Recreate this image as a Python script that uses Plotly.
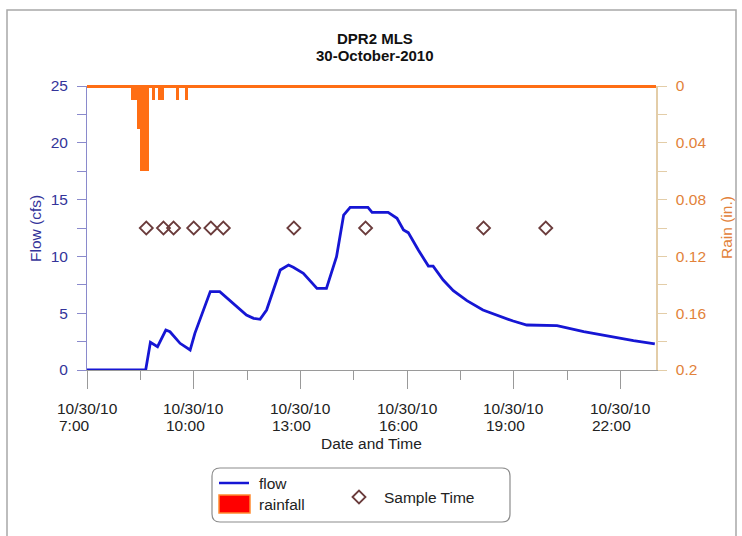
import plotly.graph_objects as go

# ---------------- data ----------------
flow_time = ["2010-10-30 07:00", "2010-10-30 08:39", "2010-10-30 08:47", "2010-10-30 08:59",
             "2010-10-30 09:13", "2010-10-30 09:20", "2010-10-30 09:37", "2010-10-30 09:54",
             "2010-10-30 10:02", "2010-10-30 10:28", "2010-10-30 10:44", "2010-10-30 11:07",
             "2010-10-30 11:29", "2010-10-30 11:41", "2010-10-30 11:52", "2010-10-30 12:03",
             "2010-10-30 12:26", "2010-10-30 12:40", "2010-10-30 12:48", "2010-10-30 13:05",
             "2010-10-30 13:28", "2010-10-30 13:44", "2010-10-30 14:01", "2010-10-30 14:13",
             "2010-10-30 14:24", "2010-10-30 14:54", "2010-10-30 15:01", "2010-10-30 15:28",
             "2010-10-30 15:43", "2010-10-30 15:54", "2010-10-30 16:02", "2010-10-30 16:19",
             "2010-10-30 16:36", "2010-10-30 16:44", "2010-10-30 17:01", "2010-10-30 17:18",
             "2010-10-30 17:41", "2010-10-30 18:08", "2010-10-30 18:37", "2010-10-30 18:59",
             "2010-10-30 19:22", "2010-10-30 20:13", "2010-10-30 20:58", "2010-10-30 21:48",
             "2010-10-30 22:22", "2010-10-30 22:58"]
flow_cfs = [0, 0, 2.44, 2.05,
            3.52, 3.37, 2.35, 1.76,
            3.23, 6.9, 6.9, 5.87,
            4.84, 4.55, 4.46, 5.28,
            8.8, 9.24, 9.04, 8.51,
            7.19, 7.19, 9.97, 13.64,
            14.32, 14.32, 13.88, 13.88,
            13.35, 12.32, 12.09, 10.56,
            9.15, 9.15, 7.92, 6.98,
            6.10, 5.28, 4.69, 4.31,
            3.96, 3.9, 3.37, 2.88,
            2.58, 2.29]

rain_time = ["2010-10-30 08:15", "2010-10-30 08:20", "2010-10-30 08:25", "2010-10-30 08:30",
             "2010-10-30 08:35", "2010-10-30 08:40", "2010-10-30 08:50", "2010-10-30 09:00",
             "2010-10-30 09:05", "2010-10-30 09:30", "2010-10-30 09:45"]
rain_in = [0.01, 0.01, 0.03, 0.06, 0.06, 0.06, 0.01, 0.01, 0.01, 0.01, 0.01]

sample_time = ["2010-10-30 08:40", "2010-10-30 09:09", "2010-10-30 09:26", "2010-10-30 10:00",
               "2010-10-30 10:29", "2010-10-30 10:50", "2010-10-30 12:49", "2010-10-30 14:50",
               "2010-10-30 18:09", "2010-10-30 19:54"]
sample_flow = [12.5] * 10

x_ticks = ["2010-10-30 07:00", "2010-10-30 10:00", "2010-10-30 13:00",
           "2010-10-30 16:00", "2010-10-30 19:00", "2010-10-30 22:00"]
x_tick_dates = ["10/30/10"] * 6
x_tick_times = ["7:00", "10:00", "13:00", "16:00", "19:00", "22:00"]
x_minor = ["2010-10-30 08:30", "2010-10-30 11:30", "2010-10-30 14:30",
           "2010-10-30 17:30", "2010-10-30 20:30"]
flow_ticks = [0, 5, 10, 15, 20, 25]
rain_ticks = [0, 0.04, 0.08, 0.12, 0.16, 0.2]
rain_tick_labels = ["0", "0.04", "0.08", "0.12", "0.16", "0.2"]

# ---------------- styling ----------------
W, H = 742, 536
L, R, T, B = 87, 656, 86, 370
FONT = "Liberation Sans, Arial, sans-serif"
FS = 15.5
BLUE = "#1616d4"
FLOW_AX = "#8a8acc"
FLOW_TXT = "#34349a"
ORANGE = "#ff6e14"
RAIN_AX = "#e3cda8"
RAIN_TXT = "#e2823a"
DIAMOND = "#6b3c3c"
TXT = "#222222"


def px(x):
    return (x - L) / (R - L)


def py(y):
    return (B - y) / (B - T)


fig = go.Figure()

fig.add_trace(go.Bar(
    x=rain_time, y=rain_in, yaxis="y2", width=300000, offset=0,
    marker=dict(color=ORANGE, line=dict(width=0)), showlegend=False))

fig.add_trace(go.Scatter(
    x=flow_time, y=flow_cfs, mode="lines",
    line=dict(color=BLUE, width=2.8), showlegend=False))

fig.add_trace(go.Scatter(
    x=sample_time, y=sample_flow, mode="markers",
    marker=dict(symbol="diamond-open", size=10, color=DIAMOND, line=dict(width=1.8, color=DIAMOND)),
    showlegend=False))

fig.update_layout(
    width=W, height=H,
    margin=dict(l=L, r=W - R, t=T, b=H - B, pad=0),
    paper_bgcolor="white", plot_bgcolor="white",
    font=dict(family=FONT, size=FS, color=TXT),
    bargap=0,
    xaxis=dict(
        type="date", range=["2010-10-30 07:00", "2010-10-30 23:00"],
        tickmode="array", tickvals=x_ticks, showticklabels=False,
        ticks="outside", ticklen=18, tickwidth=1, tickcolor="#9a9a9a",
        minor=dict(tickmode="array", tickvals=x_minor, ticks="outside", ticklen=9, tickcolor="#9a9a9a"),
        showline=True, linecolor="#9a9a9a", linewidth=1, showgrid=False, zeroline=False),
    yaxis=dict(
        range=[0, 25], tickmode="array", tickvals=flow_ticks,
        ticks="outside", ticklen=9, tickcolor=FLOW_AX, ticklabelstandoff=6,
        minor=dict(dtick=2.5, ticks="outside", ticklen=9, tickcolor=FLOW_AX),
        tickfont=dict(color=FLOW_TXT, size=FS),
        showline=True, linecolor=FLOW_AX, linewidth=1, showgrid=False, zeroline=False),
    yaxis2=dict(
        overlaying="y", side="right", range=[0.2, 0],
        tickmode="array", tickvals=rain_ticks, ticktext=rain_tick_labels,
        ticks="outside", ticklen=9, tickcolor=RAIN_AX, ticklabelstandoff=6,
        minor=dict(dtick=0.02, ticks="outside", ticklen=9, tickcolor=RAIN_AX),
        tickfont=dict(color=RAIN_TXT, size=FS),
        showline=True, linecolor=RAIN_AX, linewidth=1.5, showgrid=False,
        zeroline=True, zerolinecolor=ORANGE, zerolinewidth=2.5),
)


def note(x, y, text, size=FS, color=TXT, xanchor="center", angle=0, xref="paper", xshift=0):
    return dict(x=x, y=y, xref=xref, yref="paper", text=text, showarrow=False,
                xanchor=xanchor, yanchor="middle", textangle=angle, xshift=xshift,
                font=dict(size=size, color=color))


annotations = []
for tv, d, t in zip(x_ticks, x_tick_dates, x_tick_times):
    annotations.append(note(tv, py(408), d, xref="x"))
    annotations.append(note(tv, py(425), t, xref="x", xanchor="left", xshift=-30))
annotations += [
    note(px(371), py(444), "Date and Time"),
    note(px(35), py(228), "Flow (cfs)", color=FLOW_TXT, angle=-90),
    note(px(726), py(228), "Rain (in.)", color=RAIN_TXT, angle=-90),
    note(px(375), py(38), "<b>DPR2 MLS</b>", size=15, color="#111111"),
    note(px(375), py(56), "<b>30-October-2010</b>", size=15, color="#111111"),
    note(px(257), py(483), "flow", xanchor="left"),
    note(px(257), py(504), "rainfall", xanchor="left"),
    note(px(382), py(497), "Sample Time", xanchor="left"),
]

shapes = []
# outer frame
shapes.append(dict(type="rect", xref="paper", yref="paper",
                   x0=px(7), x1=px(736), y0=py(545), y1=py(10),
                   line=dict(color="#a8a8a8", width=1.5), fillcolor="rgba(0,0,0,0)", layer="below"))
# legend box (rounded)
x0, x1, y0, y1 = px(212), px(510), py(522), py(468)
rx, ry = 8 / (R - L), 8 / (B - T)
path = (f"M {x0+rx},{y0} L {x1-rx},{y0} Q {x1},{y0} {x1},{y0+ry} L {x1},{y1-ry} "
        f"Q {x1},{y1} {x1-rx},{y1} L {x0+rx},{y1} Q {x0},{y1} {x0},{y1-ry} "
        f"L {x0},{y0+ry} Q {x0},{y0} {x0+rx},{y0} Z")
shapes.append(dict(type="path", xref="paper", yref="paper", path=path,
                   line=dict(color="#8c8c8c", width=1.2), fillcolor="white"))
# legend swatches
shapes.append(dict(type="line", xref="paper", yref="paper", x0=px(219), x1=px(249), y0=py(483), y1=py(483),
                   line=dict(color=BLUE, width=2.5)))
shapes.append(dict(type="rect", xref="paper", yref="paper", x0=px(219), x1=px(250), y0=py(513), y1=py(495),
                   line=dict(color="#ff8a30", width=1.5), fillcolor="#ff0000"))
cx, cy, dx, dy = px(359), py(497), 6.5 / (R - L), 6.5 / (B - T)
shapes.append(dict(type="path", xref="paper", yref="paper",
                   path=f"M {cx-dx},{cy} L {cx},{cy+dy} L {cx+dx},{cy} L {cx},{cy-dy} Z",
                   line=dict(color=DIAMOND, width=1.8), fillcolor="white"))

fig.update_layout(annotations=annotations, shapes=shapes)

fig.write_html("out.html", config={"displayModeBar": False},
               post_script="document.body.style.margin='0';document.body.style.overflow='hidden';")
